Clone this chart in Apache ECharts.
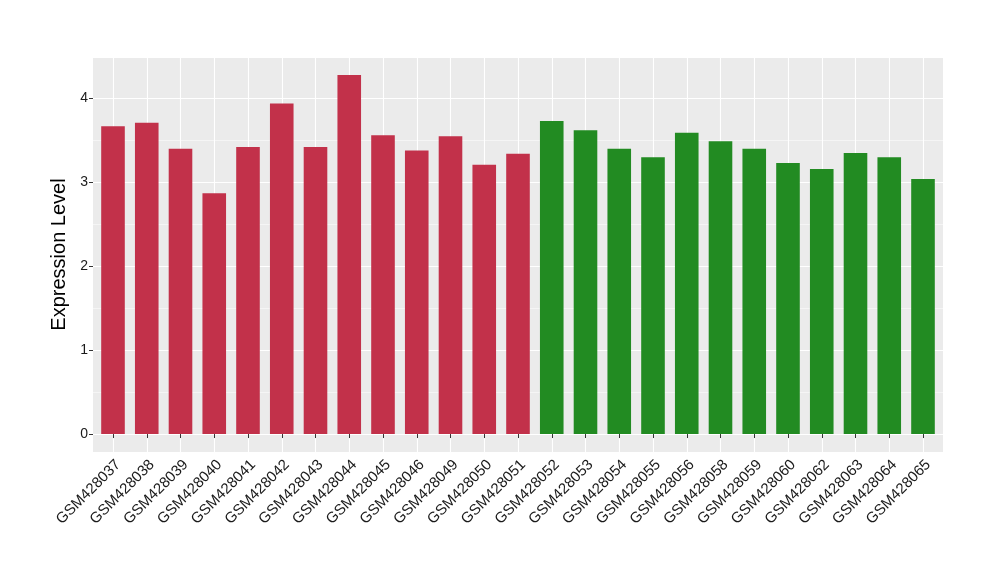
<!DOCTYPE html>
<html>
<head>
<meta charset="utf-8">
<script src="https://cdn.jsdelivr.net/npm/echarts@6/dist/echarts.min.js"></script>
<style>html,body{margin:0;padding:0;background:#fff;}#c{width:1000px;height:580px;}</style>
</head>
<body>
<div id="c"></div>
<script>
const categories = ["GSM428037","GSM428038","GSM428039","GSM428040","GSM428041","GSM428042","GSM428043","GSM428044","GSM428045","GSM428046","GSM428049","GSM428050","GSM428051","GSM428052","GSM428053","GSM428054","GSM428055","GSM428056","GSM428058","GSM428059","GSM428060","GSM428062","GSM428063","GSM428064","GSM428065"];
const values = [3.67,3.71,3.40,2.87,3.42,3.94,3.42,4.28,3.56,3.38,3.55,3.21,3.34,3.73,3.62,3.40,3.30,3.59,3.49,3.40,3.23,3.16,3.35,3.30,3.04];
const groups = ["A","A","A","A","A","A","A","A","A","A","A","A","A","B","B","B","B","B","B","B","B","B","B","B","B"];
const groupColors = {A: "#C2314A", B: "#228B22"};

const yMin = -0.214, yMax = 4.494;
const font = "Liberation Sans, Arial, sans-serif";

const chart = echarts.init(document.getElementById('c'), null, {renderer: 'canvas'});
chart.setOption({
  animation: false,
  grid: [
    {left: 93, right: 57, top: 57, bottom: 128, show: true, backgroundColor: '#EBEBEB', borderWidth: 0},
    {left: 113, right: 77, top: 57, bottom: 128, show: false}
  ],
  xAxis: [
    {gridIndex: 0, type: 'value', min: 0, max: 1, show: false},
    {gridIndex: 1, type: 'category', data: categories, boundaryGap: false,
     axisLine: {show: false},
     axisTick: {show: true, length: 4, lineStyle: {color: '#333', width: 1}},
     splitLine: {show: true, lineStyle: {color: '#fff', width: 1.1}},
     axisLabel: {rotate: 45, fontSize: 15, color: '#1a1a1a', fontFamily: font, margin: 5, interval: 0,
                 verticalAlign: 'top'}
    }
  ],
  yAxis: [
    {gridIndex: 0, type: 'value', min: yMin, max: yMax, splitNumber: 5,
     axisLine: {show: false},
     axisTick: {show: true, length: 4, lineStyle: {color: '#333', width: 1}},
     axisLabel: {fontSize: 14, color: '#1a1a1a', fontFamily: font, margin: 5,
                 showMinLabel: false, showMaxLabel: false},
     splitLine: {show: true, lineStyle: {color: '#fff', width: 1.1}},
     minorTick: {show: false, splitNumber: 2},
     minorSplitLine: {show: true, lineStyle: {color: '#fff', width: 0.5}},
     name: 'Expression Level', nameLocation: 'middle', nameGap: 19,
     nameTextStyle: {fontSize: 20, color: '#000', fontFamily: font}
    },
    {gridIndex: 1, type: 'value', min: yMin, max: yMax, show: false, splitLine: {show: false}}
  ],
  series: [{
    type: 'bar', xAxisIndex: 1, yAxisIndex: 1, barWidth: 23.6,
    data: values.map((v, i) => ({value: v, itemStyle: {color: groupColors[groups[i]]}}))
  }]
});
</script>
</body>
</html>
